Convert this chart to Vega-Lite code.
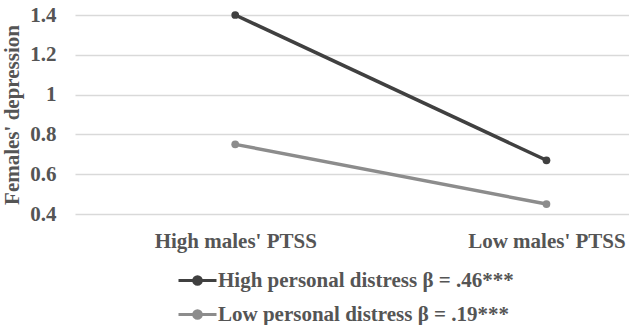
{
  "$schema": "https://vega.github.io/schema/vega-lite/v6.json",
  "width": 554,
  "height": 199,
  "padding": {"left": 1, "top": 4, "right": 0, "bottom": 0},
  "background": "white",
  "config": {
    "view": {"stroke": null},
    "font": "Liberation Serif",
    "axis": {"labelFont": "Liberation Serif", "titleFont": "Liberation Serif", "labelFontWeight": "bold", "titleFontWeight": "bold", "labelColor": "#555555", "titleColor": "#555555"}
  },
  "data": {
    "values": [
      {"ptss": "High males' PTSS", "distress": "High personal distress β = .46***", "depression": 1.40},
      {"ptss": "Low males' PTSS", "distress": "High personal distress β = .46***", "depression": 0.67},
      {"ptss": "High males' PTSS", "distress": "Low personal distress β = .19***", "depression": 0.75},
      {"ptss": "Low males' PTSS", "distress": "Low personal distress β = .19***", "depression": 0.45}
    ]
  },
  "encoding": {
    "x": {
      "field": "ptss", "type": "nominal", "sort": null,
      "scale": {"type": "point", "padding": 0.39, "align": 0.66},
      "axis": {"title": null, "labelAngle": 0, "domain": false, "ticks": false, "grid": false, "labelFontSize": 21, "labelPadding": 16}
    },
    "y": {
      "field": "depression", "type": "quantitative",
      "scale": {"domain": [0.4, 1.4], "nice": false, "zero": false},
      "axis": {"title": "Females' depression", "values": [0.4, 0.6, 0.8, 1, 1.2, 1.4], "format": ".1~f", "domain": false, "ticks": false, "gridColor": "#d9d9d9", "gridWidth": 1.3, "labelFontSize": 21, "labelPadding": 19, "titleFontSize": 21, "titlePadding": 7}
    },
    "color": {
      "field": "distress", "type": "nominal", "sort": null,
      "scale": {"range": ["#404040", "#8c8c8c"]},
      "legend": {
        "title": null, "orient": "none", "legendX": 102, "legendY": 245, "direction": "vertical",
        "labelFont": "Liberation Serif", "labelFontWeight": "bold", "labelFontSize": 21, "labelColor": "#555555",
        "symbolType": "M-1,0L1,0M-0.2,0A0.2,0.2 0 1,1 0.2,0A0.2,0.2 0 1,1 -0.2,0Z",
        "symbolSize": 1444, "symbolStrokeWidth": 3, "labelOffset": 0, "rowPadding": 3,
        "labelLimit": 450,
        "encode": {"symbols": {"update": {"fill": {"scale": "color", "field": "value"}, "stroke": {"scale": "color", "field": "value"}, "opacity": {"value": 1}}}}
      }
    }
  },
  "layer": [
    {"mark": {"type": "line", "strokeWidth": 3.5}},
    {"mark": {"type": "point", "filled": true, "size": 60, "opacity": 1}}
  ]
}
